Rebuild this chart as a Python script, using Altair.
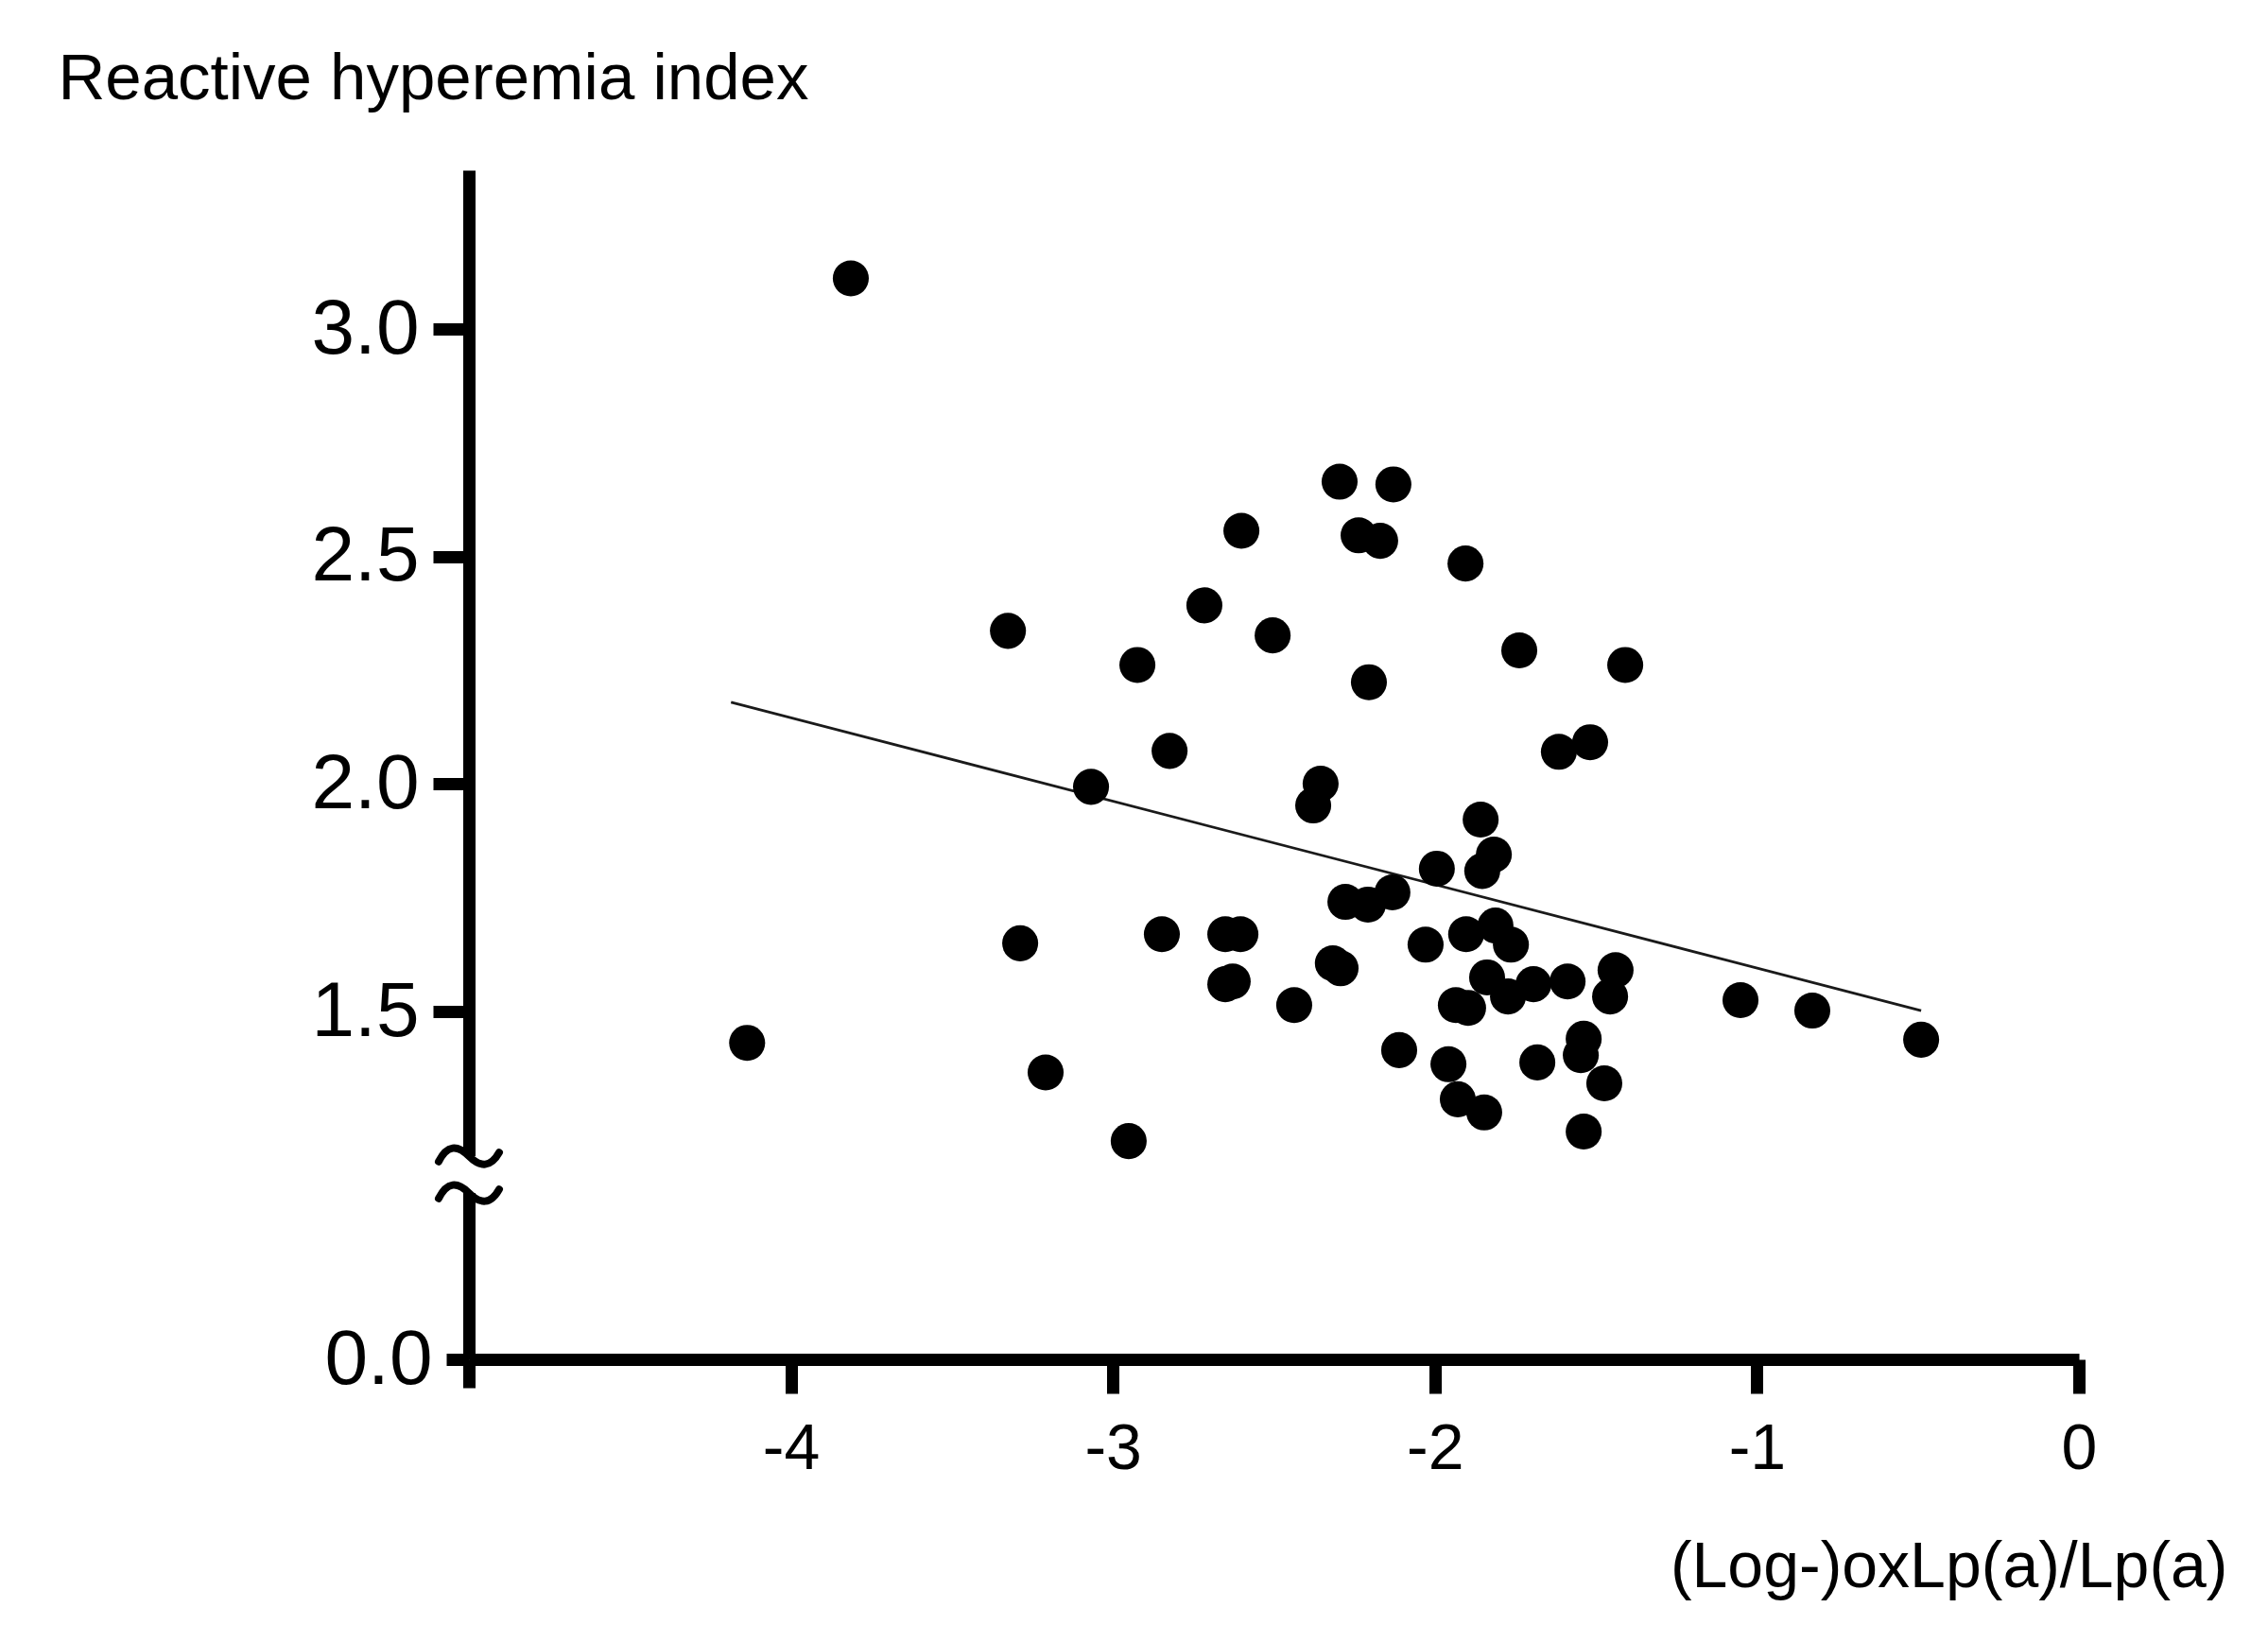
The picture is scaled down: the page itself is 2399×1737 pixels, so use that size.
import altair as alt
import pandas as pd

# ---- data ----
x_vals = [-3.814, -4.136, -3.326, -3.288, -3.209, -3.068, -2.951, -2.924, -2.848, -2.824,
          -2.716, -2.601, -2.651, -2.604, -2.651, -2.628, -2.504, -2.437, -2.355, -2.378,
          -2.317, -2.293, -2.296, -2.278, -2.237, -2.208, -2.205, -2.170, -2.132, -2.129,
          -2.111, -2.029, -1.994, -1.958, -1.935, -1.929, -1.905, -1.903, -1.897, -1.858,
          -1.847, -1.838, -1.817, -1.853, -1.812, -1.773, -1.764, -1.738, -1.694, -1.682,
          -1.615, -1.588, -1.538, -1.547, -1.538, -1.518, -1.474, -1.456, -1.439, -1.409,
          -1.051, -0.828, -0.490]
y_vals = [3.112, 1.431, 2.337, 1.650, 1.366, 1.994, 1.215, 2.262, 1.670, 2.073,
          2.393, 2.557, 1.670, 1.670, 1.560, 1.566, 2.327, 1.514, 2.001, 1.953,
          1.606, 1.595, 2.665, 1.741, 2.547, 1.735, 2.224, 2.535, 1.762, 2.659,
          1.415, 1.647, 1.814, 1.384, 1.514, 1.307, 2.485, 1.670, 1.508, 1.922,
          1.278, 1.575, 1.845, 1.809, 1.689, 1.533, 1.647, 2.294, 1.560, 1.388,
          2.071, 1.566, 1.440, 1.404, 1.236, 2.092, 1.342, 1.533, 1.591, 2.262,
          1.525, 1.502, 1.438]
fit_x = [-4.186, -0.490]
fit_y = [2.180, 1.502]
x_ticks = [-5, -4, -3, -2, -1, 0]
y_ticks = [0.0, 1.5, 2.0, 2.5, 3.0]
break_y = [1.182, 1.100]
break_x = -5
y_title = "Reactive hyperemia index"
x_title = "(Log-)oxLp(a)/Lp(a)"

# ---- layout ----
W, H = 1703, 1258
FONT = "Liberation Sans"
WAVE = "M-1,0.18C-0.72,-0.38 -0.38,-0.38 0,0C0.38,0.38 0.72,0.38 1,-0.12"

pts = pd.DataFrame({"x": x_vals, "y": y_vals})
fit = pd.DataFrame({"x": fit_x, "y": fit_y})
gap = pd.DataFrame({"x": [break_x], "y": [break_y[1]], "y2": [break_y[0]]})
waves = pd.DataFrame({"x": [break_x] * len(break_y), "y": break_y})

x_scale = alt.Scale(domain=[-5, 0], nice=False, zero=False)
y_scale = alt.Scale(domain=[0, 1.1, 1.182, 3.35], range=[H, 1082, 1043, 0],
                    nice=False, zero=False)

x_axis = alt.Axis(
    values=x_ticks, title=x_title, grid=False,
    labelExpr="datum.value == -5 ? '' : toString(datum.value)",
    domainWidth=13, domainColor="black",
    tickWidth=13, tickColor="black",
    tickSize={"condition": {"test": "datum.value == -5", "value": 30}, "value": 36},
    labelFont=FONT, labelFontSize=68, labelPadding=25, labelColor="black",
    labelFlush=False, labelOverlap=False,
    titleFont=FONT, titleFontSize=68, titleFontWeight="normal", titleColor="black",
    titleAlign="right", titleX=1860, titleY=240, titleBaseline="alphabetic",
)
y_axis = alt.Axis(
    values=y_ticks, format=".1f", title=y_title, grid=False,
    domainWidth=13, domainColor="black",
    tickWidth=13, tickColor="black",
    tickSize={"condition": {"test": "datum.value == 0", "value": 24}, "value": 38},
    labelFont=FONT, labelFontSize=82, labelPadding=15, labelColor="black",
    labelFlush=False, labelOverlap=False,
    titleFont=FONT, titleFontSize=69, titleFontWeight="normal", titleColor="black",
    titleAngle=0, titleAlign="left", titleX=-435, titleY=-76, titleBaseline="alphabetic",
)

X = alt.X("x:Q", scale=x_scale, axis=x_axis)
Y = alt.Y("y:Q", scale=y_scale, axis=y_axis)

line = alt.Chart(fit).mark_line(color="#1a1a1a", strokeWidth=2.8).encode(x=X, y=Y)
points = alt.Chart(pts).mark_circle(size=1450, color="black", opacity=1).encode(x=X, y=Y)
gap_rule = alt.Chart(gap).mark_rule(color="white", strokeWidth=20).encode(
    x=X, y=Y, y2=alt.Y2("y2:Q"))
wave_marks = alt.Chart(waves).mark_point(
    shape=WAVE, size=4096, filled=False, stroke="black", strokeWidth=8,
    strokeCap="round", opacity=1).encode(x=X, y=Y)

chart = alt.layer(line, points, gap_rule, wave_marks).properties(
    width=W, height=H,
    autosize=alt.AutoSizeParams(type="none"),
    padding={"left": 488, "top": 172, "right": 190, "bottom": 280},
    background="white",
).configure_view(stroke=None)

chart.save("out.html", embed_options={"renderer": "svg", "actions": False})
